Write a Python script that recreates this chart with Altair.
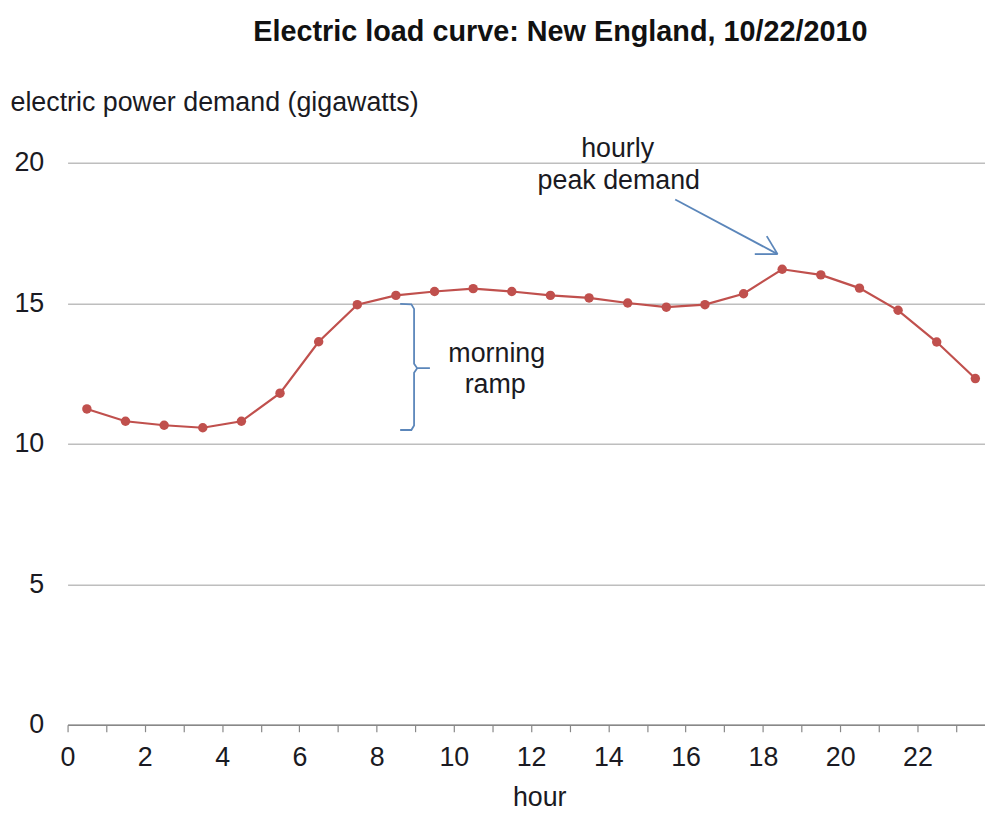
import altair as alt
import pandas as pd

# ---- data ----
hours = [0.5, 1.5, 2.5, 3.5, 4.5, 5.5, 6.5, 7.5, 8.5, 9.5, 10.5, 11.5,
         12.5, 13.5, 14.5, 15.5, 16.5, 17.5, 18.5, 19.5, 20.5, 21.5, 22.5, 23.5]
demand = [11.24, 10.80, 10.66, 10.57, 10.80, 11.80, 13.63, 14.95, 15.28, 15.42, 15.52, 15.42,
          15.28, 15.19, 15.01, 14.86, 14.95, 15.34, 16.21, 16.01, 15.54, 14.75, 13.62, 12.32]

x_ticks = [i * 0.5 for i in range(48)]
y_ticks = [0, 5, 10, 15, 20]

# annotation text (data coords)
note_text = ["hourly", "peak demand", "morning", "ramp"]
note_x = [14.24, 14.27, 11.11, 11.07]
note_y = [20.21, 19.08, 12.90, 11.80]

# arrow to the peak (data coords)
arrow_seg = ["shaft", "wing1", "wing2"]
arrow_x = [15.73, 17.79, 18.10]
arrow_y = [18.69, 16.75, 17.39]
arrow_x2 = [18.38, 18.38, 18.38]
arrow_y2 = [16.75, 16.75, 16.75]

# brace for morning ramp (data coords)
brace_part = ["top"] * 6 + ["bottom"] * 5
brace_order = list(range(6)) + list(range(5))
brace_x = [8.61, 8.90, 8.97, 8.97, 9.05, 9.38, 9.05, 8.97, 8.97, 8.90, 8.61]
brace_y = [14.98, 14.96, 14.80, 12.85, 12.69, 12.69, 12.69, 12.53, 10.65, 10.49, 10.49]

FONT = "Liberation Sans"
RED = "#C0504D"
BLUE = "#5B86BA"
TXT = "#1a1a22"

df = pd.DataFrame({"hour": hours, "demand": demand})
notes = pd.DataFrame({"t": note_text, "x": note_x, "y": note_y})
arrow = pd.DataFrame({"s": arrow_seg, "x": arrow_x, "y": arrow_y, "x2": arrow_x2, "y2": arrow_y2})
brace = pd.DataFrame({"p": brace_part, "o": brace_order, "x": brace_x, "y": brace_y})

xscale = alt.Scale(domain=[0, 23.75], nice=False, zero=False)
yscale = alt.Scale(domain=[0, 20], nice=False)

xaxis = alt.Axis(values=x_ticks, grid=False, format="d",
                 labelExpr="datum.value % 2 == 0 ? format(datum.value, 'd') : ''",
                 labelOverlap=False, labelFlush=False,
                 tickSize=7, tickColor="#888888", tickWidth=1.2,
                 domainColor="#888888", domainWidth=1.5,
                 labelFont=FONT, labelFontSize=27, labelColor=TXT,
                 labelPadding=13,
                 title="hour", titleFont=FONT, titleFontSize=27,
                 titleFontWeight="normal", titleColor=TXT,
                 titleX=475, titleY=81, titleBaseline="alphabetic",
                 titleAlign="center")
yaxis = alt.Axis(values=y_ticks, grid=True, gridColor="#BEBEBE",
                 gridWidth=1.5, ticks=False, domain=False, format="d",
                 labelFont=FONT, labelFontSize=27, labelColor=TXT,
                 labelPadding=24,
                 title="electric power demand (gigawatts)",
                 titleFont=FONT, titleFontSize=27, titleFontWeight="normal",
                 titleColor=TXT, titleAngle=0, titleAlign="left",
                 titleBaseline="alphabetic", titleX=-58, titleY=-53)

base = alt.Chart(df)

line = base.mark_line(color=RED, strokeWidth=2.2, clip=False).encode(
    x=alt.X("hour:Q", scale=xscale, axis=xaxis),
    y=alt.Y("demand:Q", scale=yscale, axis=yaxis),
)

points = base.mark_point(filled=True, color=RED, size=90, opacity=1).encode(
    x=alt.X("hour:Q", scale=xscale, axis=xaxis),
    y=alt.Y("demand:Q", scale=yscale, axis=yaxis),
)

text = alt.Chart(notes).mark_text(font=FONT, fontSize=27, color=TXT,
                                  baseline="alphabetic", align="center").encode(
    x=alt.X("x:Q", scale=xscale, axis=xaxis),
    y=alt.Y("y:Q", scale=yscale, axis=yaxis),
    text="t:N",
)

arrow_marks = alt.Chart(arrow).mark_rule(color=BLUE, strokeWidth=1.8).encode(
    x=alt.X("x:Q", scale=xscale, axis=xaxis),
    y=alt.Y("y:Q", scale=yscale, axis=yaxis),
    x2="x2:Q",
    y2="y2:Q",
)

brace_marks = alt.Chart(brace).mark_line(color=BLUE, strokeWidth=1.8).encode(
    x=alt.X("x:Q", scale=xscale, axis=xaxis),
    y=alt.Y("y:Q", scale=yscale, axis=yaxis),
    detail="p:N",
    order="o:Q",
)

chart = alt.layer(line, points, brace_marks, arrow_marks, text).properties(
    width=924,
    height=566,
    background="white",
    autosize=alt.AutoSizeParams(type="none"),
    padding={"left": 60, "top": 153, "right": 0, "bottom": 86},
    title=alt.TitleParams("Electric load curve:  New England, 10/22/2010",
                          font=FONT, fontSize=29, fontWeight="bold", color="#111111",
                          anchor="start", frame="group", dx=187, offset=42),
).configure_view(stroke="transparent", strokeWidth=0)

chart.save("out.html", embed_options={"renderer": "svg", "actions": False})
